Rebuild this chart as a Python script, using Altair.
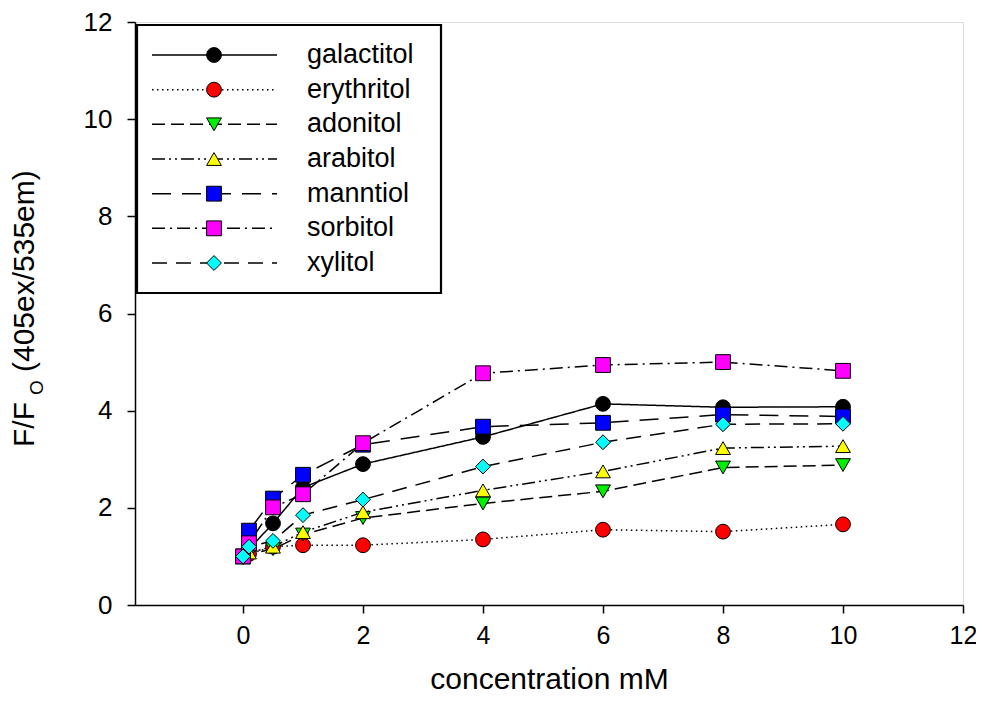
import altair as alt
import pandas as pd

conc = [0, 0.1, 0.5, 1, 2, 4, 6, 8, 10]
series = ["galactitol", "erythritol", "adonitol", "arabitol", "manntiol", "sorbitol", "xylitol"]

galactitol = [1.0, 1.15, 1.68, 2.42, 2.90, 3.46, 4.14, 4.07, 4.08]
erythritol = [1.0, 1.05, 1.20, 1.23, 1.23, 1.35, 1.55, 1.51, 1.66]
adonitol = [1.0, 1.05, 1.15, 1.45, 1.79, 2.09, 2.34, 2.83, 2.88]
arabitol = [1.0, 1.08, 1.20, 1.50, 1.91, 2.36, 2.75, 3.23, 3.27]
manntiol = [1.0, 1.53, 2.19, 2.68, 3.30, 3.67, 3.75, 3.92, 3.88]
sorbitol = [1.0, 1.27, 2.01, 2.28, 3.33, 4.77, 4.94, 5.00, 4.82]
xylitol = [1.0, 1.20, 1.32, 1.85, 2.17, 2.85, 3.35, 3.72, 3.73]

values = {
    "galactitol": galactitol,
    "erythritol": erythritol,
    "adonitol": adonitol,
    "arabitol": arabitol,
    "manntiol": manntiol,
    "sorbitol": sorbitol,
    "xylitol": xylitol,
}

colors = ["#000000", "#ff0000", "#00ee00", "#ffff00", "#0000ff", "#ff00ff", "#00ffff"]
shapes = ["circle", "circle", "triangle-down", "triangle-up", "square", "square", "diamond"]
dashes = [[1, 0], [1.5, 3.5], [13, 6], [13, 4, 2, 4, 2, 4], [19, 11], [13, 5, 2, 5], [15, 9]]
sizes = [220, 220, 240, 240, 190, 190, 300]

x_ticks = [0, 2, 4, 6, 8, 10, 12]
y_ticks = [0, 2, 4, 6, 8, 10, 12]

rows = []
for i, s in enumerate(series):
    for c, v in zip(conc, values[s]):
        rows.append({"series": s, "idx": i, "conc": c, "value": v})
df = pd.DataFrame(rows)
legend_df = pd.DataFrame({"series": series})
one = pd.DataFrame({"a": [0]})

FONT = "Liberation Sans"

shp = alt.Shape("series:N", scale=alt.Scale(domain=series, range=shapes), legend=None)
dsh = alt.StrokeDash("series:N", scale=alt.Scale(domain=series, range=dashes), legend=None)
siz = alt.Size("series:N", scale=alt.Scale(domain=series, range=sizes), legend=None)
fil = alt.Fill("series:N", scale=alt.Scale(domain=series, range=colors), legend=None)

xenc = alt.X(
    "conc:Q",
    scale=alt.Scale(domain=[-1.8, 12], nice=False, zero=False),
    axis=alt.Axis(
        values=x_ticks, format="d", title="concentration mM", grid=False, tickSize=8,
        tickWidth=1.5, domainWidth=1.5, domainColor="black", tickColor="black",
        labelFontSize=25, titleFontSize=30, labelPadding=10, titlePadding=16,
        labelColor="black", titleColor="black", labelFont=FONT, titleFont=FONT,
        titleFontWeight="normal", labelFlush=False,
    ),
)
yenc = alt.Y(
    "value:Q",
    scale=alt.Scale(domain=[0, 12], nice=False, zero=False),
    axis=alt.Axis(
        values=y_ticks, format="d", title=None, grid=False, tickSize=8,
        tickWidth=1.5, domainWidth=1.5, domainColor="black", tickColor="black",
        labelFontSize=26, labelPadding=15, labelColor="black", labelFont=FONT,
        labelFlush=False,
    ),
)

lines = alt.Chart(df).mark_line(color="black", strokeWidth=1.5).encode(
    x=xenc, y=yenc, strokeDash=dsh, detail="series:N", order="conc:Q"
)
points = alt.Chart(df).mark_point(filled=True, opacity=1, stroke="black", strokeWidth=1).encode(
    x="conc:Q", y="value:Q", fill=fil, shape=shp, size=siz, order="idx:Q"
)
main = alt.layer(lines, points)

ly = alt.Y("series:N", scale=alt.Scale(type="point", domain=series, range=[33, 241], padding=0), axis=None)

box = alt.Chart(one).mark_rect(fill="white", stroke="black", strokeWidth=2.2).encode(
    x=alt.value(2), x2=alt.value(306), y=alt.value(3), y2=alt.value(271)
)
leg_rule = alt.Chart(legend_df).mark_rule(color="black", strokeWidth=1.5).encode(
    x=alt.value(17), x2=alt.value(142), y=ly, strokeDash=dsh
)
leg_pts = alt.Chart(legend_df).mark_point(filled=True, opacity=1, stroke="black", strokeWidth=1).encode(
    x=alt.value(79), y=ly, fill=fil, shape=shp, size=siz,
)
leg_txt = alt.Chart(legend_df).mark_text(align="left", baseline="middle", fontSize=27, font=FONT, color="black").encode(
    x=alt.value(172), y=ly, text="series:N"
)

t1 = alt.Chart(one).mark_text(angle=270, align="left", baseline="middle", fontSize=30, font=FONT, color="black").encode(
    x=alt.value(-110), y=alt.value(425), text=alt.value("F/F")
)
t2 = alt.Chart(one).mark_text(angle=270, align="left", baseline="middle", fontSize=19, font=FONT, color="black").encode(
    x=alt.value(-98), y=alt.value(373), text=alt.value("O")
)
t3 = alt.Chart(one).mark_text(angle=270, align="left", baseline="middle", fontSize=30, font=FONT, color="black").encode(
    x=alt.value(-110), y=alt.value(350), text=alt.value("(405ex/535em)")
)

chart = alt.layer(main, box, leg_rule, leg_pts, leg_txt, t1, t2, t3).resolve_scale(
    y="independent"
).properties(
    width=828, height=583,
    autosize=alt.AutoSizeParams(type="none"),
    padding={"left": 127, "top": 14, "right": 13, "bottom": 90},
).configure_view(stroke=None).configure(font=FONT)

chart.save("out.html", embed_options={"renderer": "svg", "actions": False})
